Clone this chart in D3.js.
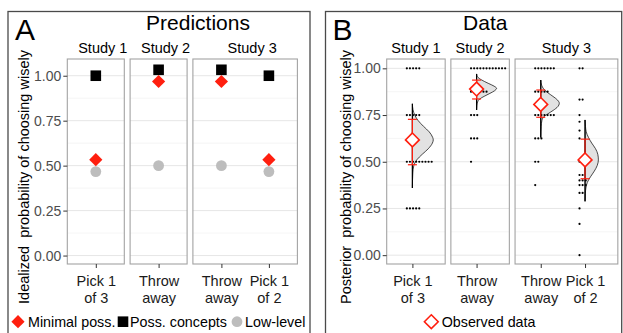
<!DOCTYPE html>
<html>
<head>
<meta charset="utf-8">
<script src="https://cdn.jsdelivr.net/npm/d3@7"></script>
<style>
body { margin: 0; background: #fff; }
svg { font-family: "Liberation Sans", Arial, sans-serif; }
</style>
</head>
<body>
<script>
// ---- data ----
var studies = ["Study 1", "Study 2", "Study 3"];
var conds = [["Pick 1\nof 3"], ["Throw\naway"], ["Throw\naway", "Pick 1\nof 2"]];

// panel A: idealized predictions (slightly offset in the original so they don't overlap)
var minimalPoss = [[0.533], [0.968], [0.968, 0.533]];
var possConcepts = [[1.0], [1.033], [1.033, 1.0]];
var lowLevel = [[0.467], [0.5], [0.5, 0.467]];
var legendA = ["Minimal poss.", "Poss. concepts", "Low-level"];

// panel B: participant proportions, [value, number of participants]
var s1Pick3 = [[1, 5], [0.75, 5], [0.5, 9], [0.25, 5]];
var s2Throw = [[1, 12], [0.875, 6], [0.75, 3], [0.625, 3], [0.5, 1]];
var s3Throw = [[1, 7], [0.875, 5], [0.75, 7], [0.625, 3], [0.5, 2], [0.375, 1]];
var s3Pick2 = [[1, 2], [0.833, 2], [0.75, 1], [0.714, 1], [0.667, 1], [0.625, 1], [0.5, 4],
               [0.429, 2], [0.4, 3], [0.375, 3], [0.333, 2], [0.25, 1], [0.167, 1], [0, 1]];
var dotsB = [[s1Pick3], [s2Throw], [s3Throw, s3Pick2]];

// observed means with error bars
var obsMean = [[0.617], [0.889], [0.807, 0.51]];
var obsLo = [[0.484], [0.836], [0.738, 0.409]];
var obsHi = [[0.727], [0.937], [0.884, 0.621]];

// posterior densities, [probability, density]
var dens1 = [[0.81, 0], [0.78, 0.2], [0.75, 0.8], [0.72, 2.0], [0.69, 3.8], [0.66, 5.8], [0.63, 7.0], [0.617, 7.2],
             [0.6, 6.9], [0.57, 5.5], [0.54, 3.4], [0.51, 1.5], [0.48, 0.5], [0.44, 0.15], [0.36, 0]];
var dens2 = [[0.97, 0], [0.955, 0.3], [0.94, 1.5], [0.92, 4.0], [0.905, 6.0], [0.893, 6.9], [0.88, 6.2],
             [0.866, 4.6], [0.85, 2.6], [0.835, 1.0], [0.82, 0.35], [0.8, 0.1], [0.777, 0]];
var dens3t = [[0.937, 0], [0.91, 0.3], [0.89, 1.0], [0.87, 2.4], [0.85, 4.2], [0.83, 5.8], [0.813, 6.4], [0.795, 5.9],
              [0.775, 4.3], [0.755, 2.3], [0.74, 1.0], [0.72, 0.4], [0.69, 0.15], [0.63, 0]];
var dens3p = [[0.724, 0], [0.69, 0.15], [0.66, 0.4], [0.63, 1.2], [0.6, 2.3], [0.57, 3.6], [0.54, 4.4], [0.51, 4.6],
              [0.48, 4.2], [0.45, 3.2], [0.42, 1.9], [0.39, 0.8], [0.36, 0.3], [0.33, 0.1], [0.288, 0]];
var densB = [[dens1], [dens2], [dens3t, dens3p]];

var yTicks = [0, 0.25, 0.5, 0.75, 1];
var yMinor = [0.125, 0.375, 0.625, 0.875];

// ---- layout ----
var W = 623, H = 333, TOP = 59, BOT = 264;
var RED = "#ff1f0f";

var svg = d3.select("body").append("svg").attr("width", W).attr("height", H);

// builds facet x scales (free space, discrete categories)
function makeFacets(left, unit, expL, expR, gap) {
    var out = [], x0 = left;
    conds.forEach(function (c) {
        var w = (c.length - 1 + expL + expR) * unit;
        out.push({ x0: x0, x1: x0 + w, x: d3.scaleLinear().domain([-expL, c.length - 1 + expR]).range([x0, x0 + w]) });
        x0 += w + gap;
    });
    return out;
}

// outer box, letter and title
function drawFrame(x, w, letter, title, titleX) {
    svg.append("rect").attr("x", x).attr("y", 11.5).attr("width", w).attr("height", 340)
        .attr("fill", "none").attr("stroke", "#4a4a4a").attr("stroke-width", 1.3);
    svg.append("text").attr("x", x + 7).attr("y", 40).attr("font-size", 30).text(letter);
    svg.append("text").attr("x", titleX).attr("y", 30).attr("font-size", 21)
        .attr("text-anchor", "middle").text(title);
}

// grid, borders, strips, axes
function drawPanels(facets, y, stripShift, yTitle, yTitleX) {
    facets.forEach(function (f, i) {
        var g = svg.append("g");
        g.selectAll("line.minor").data(yMinor).join("line")
            .attr("x1", f.x0).attr("x2", f.x1).attr("y1", y).attr("y2", y)
            .attr("stroke", "#f0f0f0").attr("stroke-width", 0.7);
        g.selectAll("line.major").data(yTicks).join("line")
            .attr("x1", f.x0).attr("x2", f.x1).attr("y1", y).attr("y2", y)
            .attr("stroke", "#e6e6e6").attr("stroke-width", 1);
        g.append("rect").attr("x", f.x0).attr("y", TOP).attr("width", f.x1 - f.x0).attr("height", BOT - TOP)
            .attr("fill", "none").attr("stroke", "#a3a3a3").attr("stroke-width", 1.1);
        g.append("text").attr("x", (f.x0 + f.x1) / 2 + stripShift).attr("y", 52.5)
            .attr("font-size", 14.5).attr("text-anchor", "middle").text(studies[i]);

        var cats = conds[i];
        var ax = svg.append("g").attr("transform", "translate(0," + BOT + ")")
            .call(d3.axisBottom(f.x).tickValues(d3.range(cats.length)).tickSize(4).tickFormat(function (k) { return cats[k]; }));
        ax.select(".domain").remove();
        ax.attr("font-size", 14.5).attr("font-family", null);
        ax.selectAll(".tick line").attr("stroke", "#333");
        ax.selectAll(".tick text").attr("fill", "#1a1a1a").each(function (k) {
            var t = d3.select(this);
            t.text(null).attr("dy", null).attr("y", null);
            cats[k].split("\n").forEach(function (line, n) {
                t.append("tspan").attr("x", 0).attr("y", 21.7 + n * 17).text(line);
            });
        });
    });

    var ya = svg.append("g").attr("transform", "translate(" + facets[0].x0 + ",0)")
        .call(d3.axisLeft(y).tickValues(yTicks).tickFormat(d3.format(".2f")).tickSize(4).tickPadding(2));
    ya.select(".domain").remove();
    ya.attr("font-size", 14).attr("font-family", null);
    ya.selectAll(".tick line").attr("stroke", "#333");
    ya.selectAll(".tick text").attr("fill", "#4d4d4d");

    svg.append("text").attr("transform", "translate(" + yTitleX + ",177) rotate(-90)")
        .attr("text-anchor", "middle").attr("font-size", 14.5).style("white-space", "pre").text(yTitle);
}

// ---- panel A ----
drawFrame(8, 302, "A", "Predictions", 198);
var facetsA = makeFacets(67.3, 47.5, 0.6, 0.6, 5.8);
var yA = d3.scaleLinear().domain([-0.047, 1.093]).range([BOT, TOP]);
drawPanels(facetsA, yA, 7, "Idealized  probability of choosing wisely", 29);

var diamondA = "M0,-6.6L6.6,0L0,6.6L-6.6,0Z";
facetsA.forEach(function (f, i) {
    var g = svg.append("g");
    var idx = d3.range(conds[i].length);
    g.selectAll("circle").data(idx).join("circle")
        .attr("cx", function (j) { return f.x(j); }).attr("cy", function (j) { return yA(lowLevel[i][j]); })
        .attr("r", 5.4).attr("fill", "#bdbdbd");
    g.selectAll("rect").data(idx).join("rect")
        .attr("x", function (j) { return f.x(j) - 5.3; }).attr("y", function (j) { return yA(possConcepts[i][j]) - 5.3; })
        .attr("width", 10.6).attr("height", 10.6).attr("fill", "#000");
    g.selectAll("path").data(idx).join("path")
        .attr("transform", function (j) { return "translate(" + f.x(j) + "," + yA(minimalPoss[i][j]) + ")"; })
        .attr("d", diamondA).attr("fill", RED);
});

// legend A
var legA = svg.append("g").attr("font-size", 14.3);
legA.append("path").attr("transform", "translate(18,321.7)").attr("d", diamondA).attr("fill", RED);
legA.append("rect").attr("x", 117.7).attr("y", 316.4).attr("width", 10.6).attr("height", 10.6).attr("fill", "#000");
legA.append("circle").attr("cx", 237).attr("cy", 321.7).attr("r", 5.4).attr("fill", "#bdbdbd");
legA.selectAll("text").data(legendA).join("text")
    .attr("x", function (d, i) { return [28, 130, 245][i]; }).attr("y", 326.8).text(function (d) { return d; });

// ---- panel B ----
drawFrame(325.5, 296.2, "B", "Data", 485.3);
var facetsB = makeFacets(386.7, 44.3, 0.58, 0.74, 5.7);
var yB = d3.scaleLinear().domain([-0.05, 1.05]).range([BOT + 0.5, TOP]);
drawPanels(facetsB, yB, 0, "Posterior  probability of choosing wisely", 351);

var densK = 2.9;   // px per density unit
var diamondB = "M0,-6.9L6.9,0L0,6.9L-6.9,0Z";
facetsB.forEach(function (f, i) {
    conds[i].forEach(function (c, j) {
        var cx = f.x(j);
        var g = svg.append("g");
        var dens = densB[i][j];
        var area = d3.area().curve(d3.curveMonotoneY)
            .y(function (d) { return yB(d[0]); })
            .x0(cx).x1(function (d) { return cx + d[1] * densK; });
        g.append("path").datum(dens).attr("d", area)
            .attr("fill", "#e2e2e2").attr("stroke", "#000").attr("stroke-width", 0.7);
        g.append("line").attr("x1", cx).attr("x2", cx)
            .attr("y1", yB(d3.max(dens, function (d) { return d[0]; })))
            .attr("y2", yB(d3.min(dens, function (d) { return d[0]; })))
            .attr("stroke", "#000").attr("stroke-width", 1.2);

        // dots stacked to the right from a small left nudge
        var pts = [];
        dotsB[i][j].forEach(function (r) {
            for (var k = 0; k < r[1]; k++) pts.push({ v: r[0], k: k });
        });
        g.selectAll("circle").data(pts).join("circle")
            .attr("cx", function (d) { return f.x(j - 0.125 + d.k * 0.07); })
            .attr("cy", function (d) { return yB(d.v); })
            .attr("r", 1.1).attr("fill", "#000");

        // error bar and mean
        var lo = yB(obsLo[i][j]), hi = yB(obsHi[i][j]);
        g.append("line").attr("x1", cx).attr("x2", cx).attr("y1", lo).attr("y2", hi)
            .attr("stroke", RED).attr("stroke-width", 1.2);
        [lo, hi].forEach(function (yy) {
            g.append("line").attr("x1", cx - 4.5).attr("x2", cx + 4.5).attr("y1", yy).attr("y2", yy)
                .attr("stroke", RED).attr("stroke-width", 1.2);
        });
        g.append("path").attr("transform", "translate(" + cx + "," + yB(obsMean[i][j]) + ")")
            .attr("d", diamondB).attr("fill", "#fff").attr("stroke", RED).attr("stroke-width", 1.6);
    });
});

// legend B
svg.append("path").attr("transform", "translate(431.3,321.7)").attr("d", diamondB)
    .attr("fill", "#fff").attr("stroke", RED).attr("stroke-width", 1.6);
svg.append("text").attr("x", 441.7).attr("y", 326.8).attr("font-size", 14.3).text("Observed data");
</script>
</body>
</html>
